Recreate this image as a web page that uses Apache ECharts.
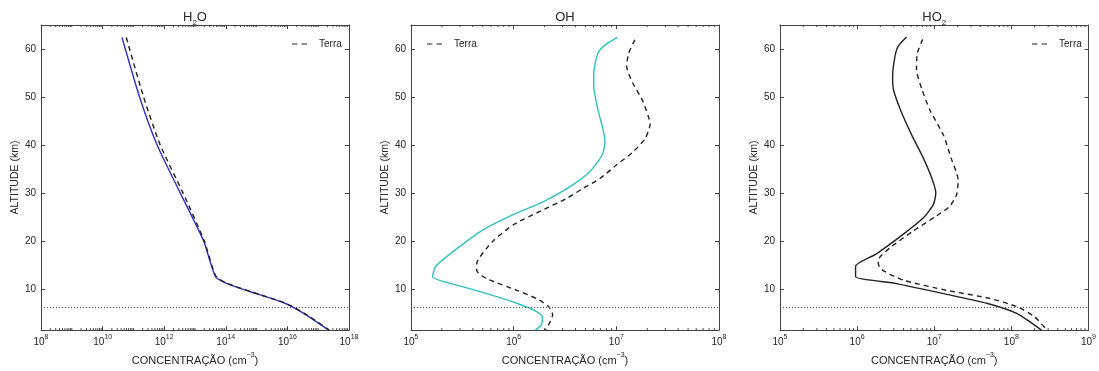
<!DOCTYPE html>
<html>
<head>
<meta charset="utf-8">
<script src="https://cdn.jsdelivr.net/npm/echarts@6/dist/echarts.min.js"></script>
<style>
  html, body { margin: 0; padding: 0; background: #fff; }
  #chart { width: 1099px; height: 371px; }
</style>
</head>
<body>
<div id="chart"></div>
<script>
// altitudes (km) and log10 of concentration (cm^-3)
const h2oModelAlt = [62.4, 50, 40, 30, 20, 12.6, 11.1, 9.4, 7.1, 4.9, 1.4];
const h2oModelLog = [10.63, 11.20, 11.77, 12.52, 13.28, 13.66, 14.04, 14.8, 15.88, 16.53, 17.34];
const h2oTerraAlt = [62.4, 50, 40, 30, 20, 12.6, 11.1, 9.4, 7.1, 4.9, 1.4];
const h2oTerraLog = [10.77, 11.33, 11.87, 12.61, 13.3, 13.68, 14.06, 14.82, 15.9, 16.55, 17.36];

const ohModelAlt = [62.4, 60.8, 59.1, 55, 52.2, 47.4, 43.3, 40.6, 37.8, 34.4, 31.3, 28.2, 25.5, 22.4, 18.6, 14.7, 12.5, 10.4, 9.0, 7.0, 5.3, 4.2, 2.5, 1.4];
const ohModelLog = [7.01, 6.89, 6.82, 6.78, 6.78, 6.82, 6.87, 6.89, 6.86, 6.74, 6.55, 6.29, 6.0, 5.71, 5.46, 5.24, 5.21, 5.51, 5.74, 6.03, 6.22, 6.28, 6.27, 6.21];
const ohTerraAlt = [61.9, 59.1, 56.4, 52.9, 49.5, 46.1, 44.4, 41.3, 38.5, 35.8, 33.0, 31.0, 28.9, 26.2, 23.4, 20.0, 15.2, 13.8, 12.1, 9.7, 8.0, 6.3, 4.6, 2.9, 1.4];
const ohTerraLog = [7.18, 7.12, 7.10, 7.16, 7.25, 7.31, 7.33, 7.28, 7.16, 7.0, 6.84, 6.68, 6.52, 6.26, 6.0, 5.80, 5.64, 5.64, 5.74, 6.03, 6.22, 6.34, 6.38, 6.35, 6.31];

const ho2ModelAlt = [62.5, 60.5, 58.4, 54.3, 51.6, 47.4, 42.0, 37.2, 33.0, 30.0, 27.6, 24.8, 21.4, 17.3, 14.7, 12.5, 11.1, 9.0, 7.0, 4.9, 2.9, 1.4];
const ho2ModelLog = [6.64, 6.53, 6.49, 6.46, 6.47, 6.56, 6.71, 6.86, 6.97, 7.02, 6.99, 6.86, 6.60, 6.25, 5.98, 5.98, 6.51, 7.12, 7.68, 8.07, 8.26, 8.39];
const ho2TerraAlt = [62, 59.1, 55.7, 51.6, 47.4, 42.0, 37.2, 32.7, 29.6, 27.2, 25.2, 22.1, 18.6, 15.9, 14.2, 11.8, 9.7, 8.0, 6.3, 4.2, 1.4];
const ho2TerraLog = [6.85, 6.78, 6.77, 6.84, 6.94, 7.12, 7.22, 7.31, 7.29, 7.20, 7.03, 6.73, 6.43, 6.27, 6.30, 6.60, 7.16, 7.72, 8.07, 8.30, 8.46];

// axis ranges (x in decades)
const xRanges = [[8, 18, 2], [5, 8, 1], [5, 9, 1]];
const altRange = [1.4, 65];
const dottedAltitude = 6.2;

const titles = ['{t|H}{s|2}{t|O}', '{t|OH}', '{t|HO}{s|2}'];
const legendLeft = [287, 422, 1027];

const grids = [
    { left: 41, top: 25, width: 308, height: 309 },
    { left: 411, top: 25, width: 308, height: 309 },
    { left: 780, top: 25, width: 309, height: 309 }
];

const font = 'Liberation Sans, Arial, sans-serif';
const ink = '#262626';
const boxColor = '#444';

const pairs = (logs, alts) => logs.map((v, i) => [v, alts[i]]);

// minor ticks at 2..9 x 10^n (plus skipped decades)
const minorTicks = (lo, hi, step) => {
    const out = [];
    for (let d = lo; d < hi; d++) {
        if ((d - lo) % step !== 0) out.push([d]);
        for (let m = 2; m <= 9; m++) out.push([d + Math.log10(m)]);
    }
    return out;
};

const xAxes = [];
const yAxes = [];
grids.forEach((g, i) => {
    const [mn, mx, iv] = xRanges[i];
    const base = {
        gridIndex: i, type: 'value', min: mn, max: mx, interval: iv,
        axisLine: { show: true, lineStyle: { color: boxColor, width: 1 } },
        axisTick: { show: true, inside: true, length: 4, lineStyle: { color: boxColor } },
        splitLine: { show: false }
    };
    xAxes.push(Object.assign({}, base, {
        position: 'bottom',
        name: '{n|CONCENTRAÇÃO (cm}{p|−3}{n|)}',
        nameLocation: 'middle',
        nameGap: 18,
        nameTextStyle: {
            rich: {
                n: { fontFamily: font, fontSize: 11, color: ink, lineHeight: 14, verticalAlign: 'bottom' },
                p: { fontFamily: font, fontSize: 7, color: ink, lineHeight: 7, verticalAlign: 'top' }
            }
        },
        axisLabel: {
            margin: 3,
            formatter: v => '{b|10}{s|' + v + '}',
            rich: {
                b: { fontFamily: font, fontSize: 10, color: ink, lineHeight: 14, verticalAlign: 'bottom' },
                s: { fontFamily: font, fontSize: 7, color: ink, lineHeight: 7, verticalAlign: 'top' }
            }
        }
    }));
    xAxes.push(Object.assign({}, base, {
        position: 'top',
        axisLabel: { show: false },
        name: titles[i],
        nameLocation: 'middle',
        nameGap: -2,
        nameTextStyle: {
            rich: {
                t: { fontFamily: font, fontSize: 13, color: ink, lineHeight: 16, verticalAlign: 'top' },
                s: { fontFamily: font, fontSize: 8, color: ink, lineHeight: 8, verticalAlign: 'bottom' }
            }
        }
    }));
    const ybase = {
        gridIndex: i, type: 'value', min: altRange[0], max: altRange[1],
        axisLine: { show: true, lineStyle: { color: boxColor, width: 1 } },
        axisTick: { show: true, inside: true, length: 4, lineStyle: { color: boxColor } },
        splitLine: { show: false }
    };
    yAxes.push(Object.assign({}, ybase, {
        position: 'left',
        name: 'ALTITUDE (km)',
        nameLocation: 'middle',
        nameRotate: 90,
        nameGap: 20,
        nameTextStyle: { fontFamily: font, fontSize: 10.5, color: ink },
        axisLabel: {
            margin: 5, fontFamily: font, fontSize: 10, color: ink,
            showMinLabel: false, showMaxLabel: false
        }
    }));
    yAxes.push(Object.assign({}, ybase, {
        position: 'right',
        axisLabel: { show: false }
    }));
});

const dotted = {
    silent: true,
    symbol: 'none',
    label: { show: false },
    lineStyle: { type: [1, 2], color: '#555', width: 1 },
    data: [{ yAxis: dottedAltitude }]
};

const modelData = [pairs(h2oModelLog, h2oModelAlt), pairs(ohModelLog, ohModelAlt), pairs(ho2ModelLog, ho2ModelAlt)];
const terraData = [pairs(h2oTerraLog, h2oTerraAlt), pairs(ohTerraLog, ohTerraAlt), pairs(ho2TerraLog, ho2TerraAlt)];
const modelColors = ['#3030c8', '#30c2bb', '#222'];
const modelNames = ['H2O', 'OH', 'HO2'];

const series = [];
grids.forEach((g, i) => {
    series.push({
        name: modelNames[i], type: 'line', xAxisIndex: i * 2, yAxisIndex: i * 2,
        data: modelData[i], symbol: 'none', smooth: 0.2,
        lineStyle: { color: modelColors[i], width: 1.4 },
        itemStyle: { color: modelColors[i] },
        markLine: dotted
    });
    series.push({
        name: 'Terra', type: 'line', xAxisIndex: i * 2, yAxisIndex: i * 2,
        data: terraData[i], symbol: 'none', smooth: 0.2,
        lineStyle: { color: '#222', width: 1.4, type: [5, 4] },
        itemStyle: { color: '#222' }
    });
    series.push({
        type: 'custom', xAxisIndex: i * 2, yAxisIndex: i * 2, silent: true,
        data: minorTicks(xRanges[i][0], xRanges[i][1], xRanges[i][2]),
        encode: { x: 0 },
        renderItem: (params, api) => {
            const px = api.coord([api.value(0), 30])[0];
            const cs = params.coordSys;
            const st = { stroke: boxColor, lineWidth: 1 };
            return {
                type: 'group',
                children: [
                    { type: 'line', shape: { x1: px, y1: cs.y + cs.height, x2: px, y2: cs.y + cs.height - 2 }, style: st },
                    { type: 'line', shape: { x1: px, y1: cs.y, x2: px, y2: cs.y + 2 }, style: st }
                ]
            };
        }
    });
});

// dashed legend sample: two short dashes
const dashIcon = 'path://M0,0H5V1H0Z M9,0H14V1H9Z';

const legends = legendLeft.map(l => ({
    data: [{ name: 'Terra', icon: dashIcon }],
    left: l, top: 34, itemWidth: 15, itemHeight: 1.5,
    selectedMode: false,
    itemStyle: { color: '#222', borderWidth: 0 },
    textStyle: { fontFamily: font, fontSize: 10, color: ink, padding: [0, 0, 0, 7] }
}));

const chart = echarts.init(document.getElementById('chart'));
chart.setOption({
    animation: false,
    backgroundColor: '#fff',
    grid: grids,
    xAxis: xAxes,
    yAxis: yAxes,
    legend: legends,
    series: series
});
</script>
</body>
</html>
